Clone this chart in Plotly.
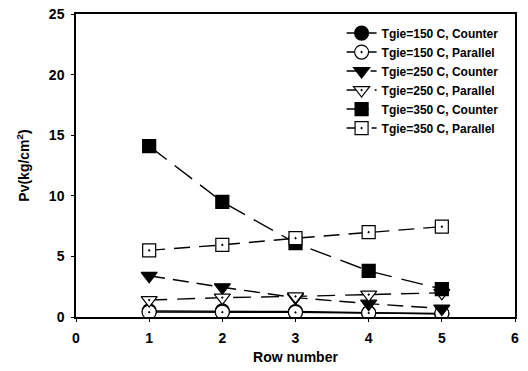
import plotly.graph_objects as go

rows = [1, 2, 3, 4, 5]
t150_counter = [0.5, 0.5, 0.45, 0.35, 0.25]
t150_parallel = [0.4, 0.4, 0.38, 0.33, 0.3]
t250_counter = [3.4, 2.45, 1.6, 1.1, 0.7]
t250_parallel = [1.4, 1.6, 1.7, 1.85, 2.0]
t350_counter = [14.1, 9.5, 6.1, 3.8, 2.3]
t350_parallel = [5.5, 5.95, 6.5, 7.0, 7.45]

names = ["Tgie=150 C, Counter", "Tgie=150 C, Parallel", "Tgie=250 C, Counter",
         "Tgie=250 C, Parallel", "Tgie=350 C, Counter", "Tgie=350 C, Parallel"]

series = [t150_counter, t150_parallel, t250_counter, t250_parallel, t350_counter, t350_parallel]
symbols = ["circle", "circle-dot", "triangle-down", "triangle-down-dot", "square", "square-dot"]
fills = ["black", "white", "black", "white", "black", "white"]
sizes = [14, 14, 14, 14, 13, 13]
dashes = ["solid", "solid", "16px,8px", "18px,10px", "22px,10px", "16px,9px"]

fig = go.Figure()
for name, vals, sym, fc, sz, d in zip(names, series, symbols, fills, sizes, dashes):
    fig.add_trace(go.Scatter(
        x=rows, y=vals, name=name, mode="lines+markers",
        line=dict(color="black", width=1.4, dash=d),
        marker=dict(symbol=sym, size=sz, color=fc,
                    line=dict(color="black", width=1.2)),
    ))

fam = "Liberation Sans, Arial, sans-serif"
tick_font = dict(family=fam, size=14, color="black", weight="bold")
title_font = dict(family=fam, size=14, color="black", weight="bold")

fig.update_layout(
    width=528, height=371,
    margin=dict(l=76, r=13, t=14, b=54),
    paper_bgcolor="white", plot_bgcolor="white",
    showlegend=True,
    legend=dict(x=0.974, y=0.985, xanchor="right", yanchor="top",
                font=dict(family=fam, size=12, color="black", weight="bold"),
                bgcolor="rgba(0,0,0,0)", tracegroupgap=0, itemwidth=30),
    xaxis=dict(range=[0, 6], dtick=1, tickmode="linear", showgrid=False, zeroline=False,
               showline=True, linecolor="black", linewidth=1.5, mirror=True,
               ticks="outside", ticklen=3, tickcolor="black", ticklabelstandoff=4,
               tickfont=tick_font, automargin=False,
               title=dict(text="Row number", font=title_font, standoff=8)),
    yaxis=dict(range=[0, 25], dtick=5, tickmode="linear", showgrid=False, zeroline=False,
               showline=True, linecolor="black", linewidth=1.5, mirror=True,
               ticks="outside", ticklen=3, tickcolor="black", ticklabelstandoff=4,
               tickfont=tick_font, automargin=False,
               title=dict(text="Pv(kg/cm<sup>2</sup>)", font=title_font, standoff=16)),
)

fig.write_html("out.html")
